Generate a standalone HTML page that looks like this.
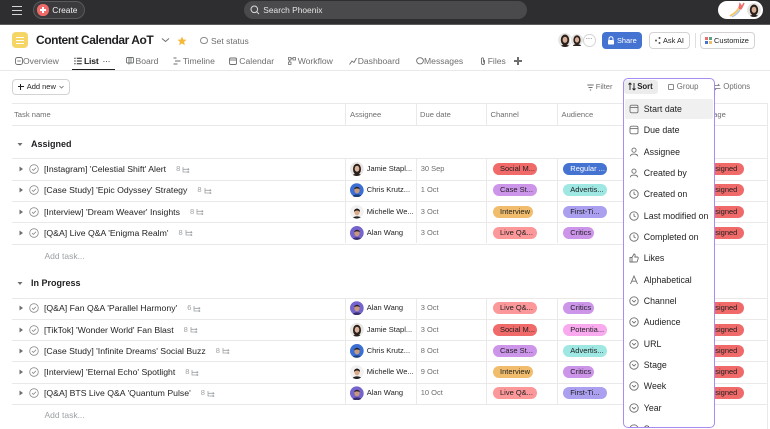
<!DOCTYPE html>
<html><head><meta charset="utf-8"><style>
*{box-sizing:border-box}
body{margin:0;width:770px;height:429px;overflow:hidden;position:relative;background:#fff;font-family:"Liberation Sans",Arial,sans-serif;color:#1e1f21}
.a{position:absolute;white-space:nowrap}
.tx{height:12px;line-height:12px;font-size:8.7px;display:flex;align-items:center}
.sm{height:12px;line-height:12px;font-size:7.5px}
.gr{color:#6d6e6f}
.hl{position:absolute;left:12px;width:755px;height:1px;background:#ebe9e8}
.vl{position:absolute;width:1px;background:#ebe9e8}
.p{position:absolute;height:12px;border-radius:6px;font-size:7.5px;line-height:12px;padding-left:7px;color:#1e1f21;overflow:hidden;white-space:nowrap}
.sc{color:#9ca0a3;font-size:7.5px;margin-left:10px;display:inline-flex;align-items:center}
.sc svg{margin-left:2px}
.av{position:absolute;clip-path:circle(50%)}
.tab{position:absolute;top:55px;height:12px;line-height:12px;font-size:8.6px;color:#6d6e6f;white-space:nowrap}
.ti{position:absolute;top:57px}
.mi{position:absolute;left:20.3px;height:14px;line-height:14px;font-size:8.8px;color:#1e1f21;white-space:nowrap}
.mic{position:absolute;left:5.5px}
</style></head><body>

<!-- top bar -->
<div class="a" style="left:0;top:0;width:770px;height:24px;background:#2e2e30"></div>
<div class="a" style="left:0;top:24px;width:770px;height:1px;background:#5c5c5e"></div>
<div class="a" style="left:12px;top:5.5px;width:10px;height:1.4px;background:#d4d4d4"></div>
<div class="a" style="left:12px;top:9.5px;width:10px;height:1.4px;background:#d4d4d4"></div>
<div class="a" style="left:12px;top:13.5px;width:10px;height:1.4px;background:#d4d4d4"></div>
<div class="a" style="left:33px;top:1px;width:52px;height:18px;background:#3b3b3d;border:1px solid #5a5a5c;border-radius:9px"></div>
<div class="a" style="left:37.3px;top:4.3px;width:11.4px;height:11.4px;border-radius:50%;background:#f06a6a"></div>
<div class="a" style="left:40px;top:9.4px;width:6px;height:1.3px;background:#fff"></div>
<div class="a" style="left:42.35px;top:7px;width:1.3px;height:6px;background:#fff"></div>
<div class="a" style="left:52.3px;top:4px;height:12px;line-height:12px;font-size:8.4px;color:#f2f2f2">Create</div>
<div class="a" style="left:244px;top:1px;width:283px;height:18px;background:#4a4a4c;border-radius:9px"></div>
<svg class="a" style="left:250px;top:5px" width="10" height="10" viewBox="0 0 10 10"><circle cx="4.3" cy="4.3" r="3.3" fill="none" stroke="#d8d8d8" stroke-width="1"/><path d="M6.7 6.7L9 9" stroke="#d8d8d8" stroke-width="1"/></svg>
<div class="a" style="left:263.3px;top:4px;height:12px;line-height:12px;font-size:8.4px;color:#e4e4e4">Search Phoenix</div>
<div class="a" style="left:718px;top:1px;width:45px;height:18px;background:#fff;border-radius:9px"></div>
<svg class="a" style="left:728px;top:2px" width="18" height="16" viewBox="0 0 18 16"><path d="M2 14 C6 12 9 10 11 6" stroke="#f5c86a" stroke-width="2" fill="none"/><path d="M4 15 C8 13 10 11 12 8" stroke="#9fc3f0" stroke-width="1.2" fill="none"/><path d="M11 6 L12 2 L14 5 L16 1" stroke="#f06a6a" stroke-width="1.5" fill="none"/><circle cx="12.5" cy="6" r="1.6" fill="#f06a6a"/></svg>
<svg class="av" style="left:747px;top:3px" width="14" height="14" viewBox="0 0 14 14"><circle cx="7" cy="7" r="7" fill="#e6e3e0"/><ellipse cx="7" cy="7" rx="4.2" ry="5.5" fill="#2a201c"/><ellipse cx="7" cy="6.8" rx="2.4" ry="3.1" fill="#d7ad92"/><path d="M2 14c1-3 9-3 10 0z" fill="#2a201c"/></svg>

<!-- title row -->
<div class="a" style="left:12px;top:32px;width:16px;height:16px;border-radius:4px;background:#f5d565"></div>
<div class="a" style="left:16px;top:36.5px;width:8px;height:1.2px;background:#fff"></div>
<div class="a" style="left:16px;top:39.5px;width:8px;height:1.2px;background:#fff"></div>
<div class="a" style="left:16px;top:42.5px;width:8px;height:1.2px;background:#fff"></div>
<div class="a" style="left:36px;top:33px;height:15px;line-height:15px;font-size:12px;font-weight:bold;letter-spacing:-0.45px;color:#1e1f21">Content Calendar AoT</div>
<svg class="a" style="left:161px;top:37px" width="9" height="6" viewBox="0 0 9 6"><path d="M1 1.5L4.5 4.5L8 1.5" stroke="#6d6e6f" stroke-width="1" fill="none"/></svg>
<svg class="a" style="left:177px;top:35.5px" width="10" height="10" viewBox="0 0 10 10"><path d="M5 0.5L6.3 3.5L9.5 3.8L7.1 5.9L7.8 9.2L5 7.5L2.2 9.2L2.9 5.9L0.5 3.8L3.7 3.5Z" fill="#f5b93a"/></svg>
<div class="a" style="left:200px;top:36.5px;width:7.5px;height:7.5px;border-radius:50%;border:1px solid #8a8b8c"></div>
<div class="a gr" style="left:211px;top:34.5px;height:12px;line-height:12px;font-size:8.5px">Set status</div>

<svg class="av" style="left:558px;top:33px" width="14" height="14" viewBox="0 0 14 14"><circle cx="7" cy="7" r="7" fill="#e8e5e2"/><ellipse cx="7" cy="7" rx="4.2" ry="5.5" fill="#2a201c"/><ellipse cx="7" cy="6.8" rx="2.4" ry="3.1" fill="#d9b198"/><path d="M2 14c1-3 9-3 10 0z" fill="#2a201c"/></svg>
<svg class="av" style="left:570px;top:33px;border:1px solid #fff" width="14" height="14" viewBox="0 0 14 14"><circle cx="7" cy="7" r="7" fill="#e8e5e2"/><ellipse cx="7" cy="7" rx="4.2" ry="5.5" fill="#2a201c"/><ellipse cx="7" cy="6.8" rx="2.4" ry="3.1" fill="#d9b198"/><path d="M2 14c1-3 9-3 10 0z" fill="#2a201c"/></svg>
<div class="a" style="left:583px;top:34px;width:12.5px;height:12.5px;border-radius:50%;background:#fff;border:1px solid #d5d5d5"></div>
<div class="a" style="left:585.5px;top:36px;height:8px;line-height:6px;font-size:8px;color:#6d6e6f;letter-spacing:-0.5px">···</div>
<div class="a" style="left:602px;top:32px;width:40px;height:17px;border-radius:4px;background:#4573d2"></div>
<svg class="a" style="left:607px;top:36px" width="8" height="9" viewBox="0 0 8 9"><path d="M2 4V2.8a2 2 0 0 1 4 0V4" stroke="#fff" stroke-width="1" fill="none"/><rect x="1" y="4" width="6" height="4.5" rx="0.8" fill="#fff"/></svg>
<div class="a" style="left:617px;top:34.5px;height:12px;line-height:12px;font-size:7.4px;color:#fff">Share</div>
<div class="a" style="left:648.5px;top:32px;width:41.5px;height:17px;border-radius:4px;border:1px solid #d5d3d2;background:#fff"></div>
<svg class="a" style="left:654px;top:36px" width="8" height="9" viewBox="0 0 8 9"><circle cx="2" cy="4.5" r="1" fill="#555"/><circle cx="5.5" cy="2" r="1" fill="#555"/><circle cx="5.5" cy="7" r="1" fill="#555"/></svg>
<div class="a" style="left:663px;top:34.5px;height:12px;line-height:12px;font-size:7.4px;color:#1e1f21">Ask AI</div>
<div class="a" style="left:695px;top:33px;width:1px;height:15px;background:#e0dedd"></div>
<div class="a" style="left:700px;top:32px;width:55px;height:17px;border-radius:4px;border:1px solid #d5d3d2;background:#fff"></div>
<div class="a" style="left:705px;top:37px;width:3px;height:3px;background:#f06a6a"></div>
<div class="a" style="left:709px;top:37px;width:3px;height:3px;background:#5da283"></div>
<div class="a" style="left:705px;top:41px;width:3px;height:3px;background:#4573d2"></div>
<div class="a" style="left:709px;top:41px;width:3px;height:3px;background:#f1bd6c"></div>
<div class="a" style="left:714px;top:34.5px;height:12px;line-height:12px;font-size:7.4px;color:#1e1f21">Customize</div>

<!-- tabs -->
<svg class="ti" style="left:14.5px" width="8" height="8" viewBox="0 0 8 8"><rect x="0.5" y="0.5" width="7" height="7" rx="2" fill="none" stroke="#6d6e6f" stroke-width="0.9"/><path d="M2.3 4h3.4" stroke="#6d6e6f" stroke-width="0.9"/></svg>
<div class="tab" style="left:23px">Overview</div>
<svg class="ti" style="left:74px" width="8" height="8" viewBox="0 0 8 8"><path d="M0.3 1.3h1.3M2.8 1.3h5M0.3 4h1.3M2.8 4h5M0.3 6.7h1.3M2.8 6.7h5" stroke="#1e1f21" stroke-width="1"/></svg>
<div class="tab" style="left:84px;color:#1e1f21;font-weight:bold;letter-spacing:-0.2px">List</div>
<div class="tab" style="left:102.5px;color:#1e1f21;letter-spacing:-0.3px">···</div>
<div class="a" style="left:72px;top:68.5px;width:42.5px;height:1.5px;background:#1e1f21"></div>
<svg class="ti" style="left:126px" width="8" height="8" viewBox="0 0 8 8"><rect x="0.5" y="0.5" width="7" height="5.5" rx="1" fill="none" stroke="#6d6e6f" stroke-width="0.9"/><path d="M3 0.5v7M5 0.5v5.5" stroke="#6d6e6f" stroke-width="0.9"/></svg>
<div class="tab" style="left:135.5px">Board</div>
<svg class="ti" style="left:172.7px" width="8" height="8" viewBox="0 0 8 8"><path d="M0.5 1h3M2 4h5.5M0.5 7h4" stroke="#6d6e6f" stroke-width="1"/></svg>
<div class="tab" style="left:182.7px">Timeline</div>
<svg class="ti" style="left:229.3px" width="8" height="8" viewBox="0 0 8 8"><rect x="0.5" y="1" width="7" height="6.5" rx="1.2" fill="none" stroke="#6d6e6f" stroke-width="0.9"/><path d="M0.5 3h7" stroke="#6d6e6f" stroke-width="0.9"/></svg>
<div class="tab" style="left:239.3px">Calendar</div>
<svg class="ti" style="left:287.7px" width="8" height="8" viewBox="0 0 8 8"><rect x="0.5" y="0.5" width="2.5" height="2.5" fill="none" stroke="#6d6e6f" stroke-width="0.8"/><rect x="5" y="0.5" width="2.5" height="2.5" fill="none" stroke="#6d6e6f" stroke-width="0.8"/><rect x="0.5" y="5" width="2.5" height="2.5" fill="none" stroke="#6d6e6f" stroke-width="0.8"/><path d="M3 1.7h2M1.7 3v2" stroke="#6d6e6f" stroke-width="0.8"/></svg>
<div class="tab" style="left:297.7px">Workflow</div>
<svg class="ti" style="left:348.7px" width="8" height="8" viewBox="0 0 8 8"><path d="M0.5 7.5L3 4L5 5.5L7.5 1" stroke="#6d6e6f" stroke-width="0.9" fill="none"/></svg>
<div class="tab" style="left:357.7px">Dashboard</div>
<svg class="ti" style="left:415.5px" width="8" height="8" viewBox="0 0 8 8"><ellipse cx="4" cy="3.8" rx="3.4" ry="3.1" fill="none" stroke="#6d6e6f" stroke-width="0.9"/></svg>
<div class="tab" style="left:424px">Messages</div>
<svg class="ti" style="left:479.5px" width="6" height="8" viewBox="0 0 6 8"><path d="M4.5 3v3a1.5 1.5 0 0 1-3 0V1.8a1 1 0 0 1 2 0V5.5" stroke="#6d6e6f" stroke-width="0.9" fill="none"/></svg>
<div class="tab" style="left:487.7px">Files</div>
<div class="a" style="left:514px;top:60.3px;width:8px;height:1.3px;background:#6d6e6f"></div>
<div class="a" style="left:517.35px;top:57px;width:1.3px;height:8px;background:#6d6e6f"></div>
<div class="a" style="left:0;top:70px;width:770px;height:1px;background:#ebe9e8"></div>

<!-- toolbar -->
<div class="a" style="left:12px;top:78.7px;width:58px;height:16.5px;border:1px solid #d5d3d2;border-radius:4px"></div>
<div class="a" style="left:18px;top:86.4px;width:5.5px;height:1.1px;background:#1e1f21"></div>
<div class="a" style="left:20.2px;top:84.2px;width:1.1px;height:5.5px;background:#1e1f21"></div>
<div class="a" style="left:26.7px;top:81px;height:12px;line-height:12px;font-size:7.5px">Add new</div>
<svg class="a" style="left:59px;top:85px" width="5" height="4" viewBox="0 0 5 4"><path d="M0.5 1L2.5 3L4.5 1" stroke="#6d6e6f" stroke-width="0.8" fill="none"/></svg>
<svg class="a" style="left:586.5px;top:83.5px" width="7" height="7" viewBox="0 0 7 7"><path d="M0.3 1h6.4M1.5 3.5h4M2.8 6h1.4" stroke="#6d6e6f" stroke-width="0.9"/></svg>
<div class="a gr" style="left:595.7px;top:81px;height:12px;line-height:12px;font-size:7.6px">Filter</div>
<svg class="a" style="left:712.5px;top:83px" width="8" height="8" viewBox="0 0 8 8"><path d="M0.5 2.5h6M5 1l1.5 1.5M7.5 5.5h-6M3 7L1.5 5.5" stroke="#6d6e6f" stroke-width="0.8" fill="none"/></svg>
<div class="a gr" style="left:723.3px;top:81px;height:12px;line-height:12px;font-size:7.8px">Options</div>

<!-- table header -->
<div class="hl" style="top:103px"></div>
<div class="hl" style="top:125px"></div>
<div class="a gr" style="left:14px;top:109px;height:12px;line-height:12px;font-size:7.6px">Task name</div>
<div class="a gr" style="left:350px;top:109px;height:12px;line-height:12px;font-size:7.6px">Assignee</div>
<div class="a gr" style="left:420px;top:109px;height:12px;line-height:12px;font-size:7.6px">Due date</div>
<div class="a gr" style="left:490.5px;top:109px;height:12px;line-height:12px;font-size:7.6px">Channel</div>
<div class="a gr" style="left:561.5px;top:109px;height:12px;line-height:12px;font-size:7.6px">Audience</div>
<div class="a gr" style="left:706px;top:109px;height:12px;line-height:12px;font-size:7.6px">Stage</div>
<div class="vl" style="left:345px;top:103px;height:22px"></div>
<div class="vl" style="left:415.5px;top:103px;height:22px"></div>
<div class="vl" style="left:485.5px;top:103px;height:22px"></div>
<div class="vl" style="left:556.5px;top:103px;height:22px"></div>
<div class="vl" style="left:697px;top:103px;height:22px"></div>
<div class="vl" style="left:767px;top:103px;height:326px"></div>

<!-- section Assigned -->
<svg class="a" style="left:16.5px;top:142px" width="6" height="5" viewBox="0 0 6 5"><path d="M0.5 1h5L3 4z" fill="#6d6e6f"/></svg>
<div class="a" style="left:31px;top:138.3px;height:12px;line-height:12px;font-size:9px;font-weight:bold">Assigned</div>
<div class="hl" style="top:158.3px"></div>
<div class="hl" style="top:179.6px"></div>
<div class="hl" style="top:200.9px"></div>
<div class="hl" style="top:222.2px"></div>
<div class="hl" style="top:243.5px"></div>
<div class="vl" style="left:345px;top:158.3px;height:85.2px"></div>
<div class="vl" style="left:415.5px;top:158.3px;height:85.2px"></div>
<div class="vl" style="left:485.5px;top:158.3px;height:85.2px"></div>
<div class="vl" style="left:556.5px;top:158.3px;height:85.2px"></div>

<!-- section In Progress -->
<svg class="a" style="left:16.5px;top:281px" width="6" height="5" viewBox="0 0 6 5"><path d="M0.5 1h5L3 4z" fill="#6d6e6f"/></svg>
<div class="a" style="left:31px;top:277.3px;height:12px;line-height:12px;font-size:9px;font-weight:bold">In Progress</div>
<div class="hl" style="top:297.5px"></div>
<div class="hl" style="top:318.8px"></div>
<div class="hl" style="top:340.1px"></div>
<div class="hl" style="top:361.4px"></div>
<div class="hl" style="top:382.7px"></div>
<div class="hl" style="top:404px"></div>
<div class="vl" style="left:345px;top:297.5px;height:106.5px"></div>
<div class="vl" style="left:415.5px;top:297.5px;height:106.5px"></div>
<div class="vl" style="left:485.5px;top:297.5px;height:106.5px"></div>
<div class="vl" style="left:556.5px;top:297.5px;height:106.5px"></div>

<div class="a" style="left:44.5px;top:250px;height:12px;line-height:12px;font-size:8.5px;color:#9ca0a3">Add task...</div>
<div class="a" style="left:44.5px;top:409.3px;height:12px;line-height:12px;font-size:8.5px;color:#9ca0a3">Add task...</div>

<svg width="0" height="0" style="position:absolute"><defs>
<g id="tri"><path d="M0.5 0.5L4 3L0.5 5.5z" fill="#6d6e6f"/></g>
<g id="chk"><circle cx="5" cy="5" r="4.3" fill="none" stroke="#8a8b8c" stroke-width="0.8"/><path d="M3 5.1L4.4 6.4L7 3.8" fill="none" stroke="#8a8b8c" stroke-width="0.8"/></g>
<g id="sub"><path d="M1 1v5h6M1 3.3h6" stroke="#9ca0a3" stroke-width="0.8" fill="none"/><path d="M5.8 2.3l1.2 1-1.2 1M5.8 5l1.2 1-1.2 1" stroke="#9ca0a3" stroke-width="0.7" fill="none"/></g>
</defs></svg>

<!-- Assigned rows -->
<svg class="a" style="left:18.7px;top:166px" width="5" height="6"><use href="#tri"/></svg>
<svg class="a" style="left:28.7px;top:164px" width="10" height="10"><use href="#chk"/></svg>
<div class="a tx" style="left:44px;top:163px">[Instagram] 'Celestial Shift' Alert<span class="sc">8<svg width="8" height="7"><use href="#sub"/></svg></span></div>
<svg class="av" style="left:349.7px;top:162px" width="14" height="14" viewBox="0 0 14 14"><circle cx="7" cy="7" r="7" fill="#e8e5e2"/><ellipse cx="7" cy="7.2" rx="4" ry="5.5" fill="#2a201c"/><ellipse cx="7" cy="6.8" rx="2.3" ry="3" fill="#dcb49b"/><path d="M2 14c1-3 9-3 10 0z" fill="#2a201c"/></svg>
<div class="a sm" style="left:366.7px;top:163px">Jamie Stapl...</div>
<div class="a sm gr" style="left:420.7px;top:163px">30 Sep</div>
<div class="p" style="left:493px;top:163px;width:44px;background:#f06a6a">Social M...</div>
<div class="p" style="left:563.3px;top:163px;width:44px;background:#4573d2;color:#fff">Regular ...</div>
<div class="p" style="left:699.5px;top:163px;width:44.5px;background:#f06a6a">Assigned</div>

<svg class="a" style="left:18.7px;top:187.3px" width="5" height="6"><use href="#tri"/></svg>
<svg class="a" style="left:28.7px;top:185.3px" width="10" height="10"><use href="#chk"/></svg>
<div class="a tx" style="left:44px;top:184.3px">[Case Study] 'Epic Odyssey' Strategy<span class="sc">8<svg width="8" height="7"><use href="#sub"/></svg></span></div>
<svg class="av" style="left:349.7px;top:183.3px" width="14" height="14" viewBox="0 0 14 14"><circle cx="7" cy="7" r="7" fill="#3b6fd4"/><ellipse cx="7" cy="7.2" rx="2.6" ry="3.2" fill="#c99a7a"/><path d="M4.2 6.5c0-3.5 5.6-3.5 5.6 0c-1.2-1.3-4.4-1.3-5.6 0z" fill="#2a201c"/><path d="M2 14c1-3.5 9-3.5 10 0z" fill="#1f3f7a"/></svg>
<div class="a sm" style="left:366.7px;top:184.3px">Chris Krutz...</div>
<div class="a sm gr" style="left:420.7px;top:184.3px">1 Oct</div>
<div class="p" style="left:493px;top:184.3px;width:44px;background:#cd95ea">Case St...</div>
<div class="p" style="left:563.3px;top:184.3px;width:44px;background:#9ee7e3">Advertis...</div>
<div class="p" style="left:699.5px;top:184.3px;width:44.5px;background:#f06a6a">Assigned</div>

<svg class="a" style="left:18.7px;top:208.6px" width="5" height="6"><use href="#tri"/></svg>
<svg class="a" style="left:28.7px;top:206.6px" width="10" height="10"><use href="#chk"/></svg>
<div class="a tx" style="left:44px;top:205.6px">[Interview] 'Dream Weaver' Insights<span class="sc">8<svg width="8" height="7"><use href="#sub"/></svg></span></div>
<svg class="av" style="left:349.7px;top:204.6px" width="14" height="14" viewBox="0 0 14 14"><circle cx="7" cy="7" r="7" fill="#f2f1f0"/><ellipse cx="7" cy="7.2" rx="2.6" ry="3.2" fill="#d9ab8c"/><path d="M4 7c-0.5-4.5 6.5-4.5 6 0c-1-2-5-2-6 0z" fill="#1d1815"/><path d="M2 14c1-3.5 9-3.5 10 0z" fill="#222"/></svg>
<div class="a sm" style="left:366.7px;top:205.6px">Michelle We...</div>
<div class="a sm gr" style="left:420.7px;top:205.6px">3 Oct</div>
<div class="p" style="left:493px;top:205.6px;width:40px;background:#f1bd6c">Interview</div>
<div class="p" style="left:563.3px;top:205.6px;width:44px;background:#aba0f0">First-Ti...</div>
<div class="p" style="left:699.5px;top:205.6px;width:44.5px;background:#f06a6a">Assigned</div>

<svg class="a" style="left:18.7px;top:229.9px" width="5" height="6"><use href="#tri"/></svg>
<svg class="a" style="left:28.7px;top:227.9px" width="10" height="10"><use href="#chk"/></svg>
<div class="a tx" style="left:44px;top:226.9px">[Q&amp;A] Live Q&amp;A 'Enigma Realm'<span class="sc">8<svg width="8" height="7"><use href="#sub"/></svg></span></div>
<svg class="av" style="left:349.7px;top:225.9px" width="14" height="14" viewBox="0 0 14 14"><circle cx="7" cy="7" r="7" fill="#7464cc"/><ellipse cx="7" cy="7.2" rx="2.6" ry="3.2" fill="#c8987a"/><path d="M4.2 6.3c0-3.3 5.6-3.3 5.6 0c-1.2-1.2-4.4-1.2-5.6 0z" fill="#2a201c"/><path d="M2 14c1-3.5 9-3.5 10 0z" fill="#3a2f6e"/></svg>
<div class="a sm" style="left:366.7px;top:226.9px">Alan Wang</div>
<div class="a sm gr" style="left:420.7px;top:226.9px">3 Oct</div>
<div class="p" style="left:493px;top:226.9px;width:44px;background:#fc979a">Live Q&amp;...</div>
<div class="p" style="left:563.3px;top:226.9px;width:31px;background:#cd95ea">Critics</div>
<div class="p" style="left:699.5px;top:226.9px;width:44.5px;background:#f06a6a">Assigned</div>

<!-- In Progress rows -->
<svg class="a" style="left:18.7px;top:305.2px" width="5" height="6"><use href="#tri"/></svg>
<svg class="a" style="left:28.7px;top:303.2px" width="10" height="10"><use href="#chk"/></svg>
<div class="a tx" style="left:44px;top:302.2px">[Q&amp;A] Fan Q&amp;A 'Parallel Harmony'<span class="sc">6<svg width="8" height="7"><use href="#sub"/></svg></span></div>
<svg class="av" style="left:349.7px;top:301.2px" width="14" height="14" viewBox="0 0 14 14"><circle cx="7" cy="7" r="7" fill="#7464cc"/><ellipse cx="7" cy="7.2" rx="2.6" ry="3.2" fill="#c8987a"/><path d="M4.2 6.3c0-3.3 5.6-3.3 5.6 0c-1.2-1.2-4.4-1.2-5.6 0z" fill="#2a201c"/><path d="M2 14c1-3.5 9-3.5 10 0z" fill="#3a2f6e"/></svg>
<div class="a sm" style="left:366.7px;top:302.2px">Alan Wang</div>
<div class="a sm gr" style="left:420.7px;top:302.2px">3 Oct</div>
<div class="p" style="left:493px;top:302.2px;width:44px;background:#fc979a">Live Q&amp;...</div>
<div class="p" style="left:563.3px;top:302.2px;width:31px;background:#cd95ea">Critics</div>
<div class="p" style="left:699.5px;top:302.2px;width:44.5px;background:#f06a6a">Assigned</div>

<svg class="a" style="left:18.7px;top:326.5px" width="5" height="6"><use href="#tri"/></svg>
<svg class="a" style="left:28.7px;top:324.5px" width="10" height="10"><use href="#chk"/></svg>
<div class="a tx" style="left:44px;top:323.5px">[TikTok] 'Wonder World' Fan Blast<span class="sc">8<svg width="8" height="7"><use href="#sub"/></svg></span></div>
<svg class="av" style="left:349.7px;top:322.5px" width="14" height="14" viewBox="0 0 14 14"><circle cx="7" cy="7" r="7" fill="#e8e5e2"/><ellipse cx="7" cy="7.2" rx="4" ry="5.5" fill="#2a201c"/><ellipse cx="7" cy="6.8" rx="2.3" ry="3" fill="#dcb49b"/><path d="M2 14c1-3 9-3 10 0z" fill="#2a201c"/></svg>
<div class="a sm" style="left:366.7px;top:323.5px">Jamie Stapl...</div>
<div class="a sm gr" style="left:420.7px;top:323.5px">3 Oct</div>
<div class="p" style="left:493px;top:323.5px;width:44px;background:#f06a6a">Social M...</div>
<div class="p" style="left:563.3px;top:323.5px;width:44px;background:#f9aaef">Potentia...</div>
<div class="p" style="left:699.5px;top:323.5px;width:44.5px;background:#f06a6a">Assigned</div>

<svg class="a" style="left:18.7px;top:347.8px" width="5" height="6"><use href="#tri"/></svg>
<svg class="a" style="left:28.7px;top:345.8px" width="10" height="10"><use href="#chk"/></svg>
<div class="a tx" style="left:44px;top:344.8px">[Case Study] 'Infinite Dreams' Social Buzz<span class="sc">8<svg width="8" height="7"><use href="#sub"/></svg></span></div>
<svg class="av" style="left:349.7px;top:343.8px" width="14" height="14" viewBox="0 0 14 14"><circle cx="7" cy="7" r="7" fill="#3b6fd4"/><ellipse cx="7" cy="7.2" rx="2.6" ry="3.2" fill="#c99a7a"/><path d="M4.2 6.5c0-3.5 5.6-3.5 5.6 0c-1.2-1.3-4.4-1.3-5.6 0z" fill="#2a201c"/><path d="M2 14c1-3.5 9-3.5 10 0z" fill="#1f3f7a"/></svg>
<div class="a sm" style="left:366.7px;top:344.8px">Chris Krutz...</div>
<div class="a sm gr" style="left:420.7px;top:344.8px">8 Oct</div>
<div class="p" style="left:493px;top:344.8px;width:44px;background:#cd95ea">Case St...</div>
<div class="p" style="left:563.3px;top:344.8px;width:44px;background:#9ee7e3">Advertis...</div>
<div class="p" style="left:699.5px;top:344.8px;width:44.5px;background:#f06a6a">Assigned</div>

<svg class="a" style="left:18.7px;top:369.1px" width="5" height="6"><use href="#tri"/></svg>
<svg class="a" style="left:28.7px;top:367.1px" width="10" height="10"><use href="#chk"/></svg>
<div class="a tx" style="left:44px;top:366.1px">[Interview] 'Eternal Echo' Spotlight<span class="sc">8<svg width="8" height="7"><use href="#sub"/></svg></span></div>
<svg class="av" style="left:349.7px;top:365.1px" width="14" height="14" viewBox="0 0 14 14"><circle cx="7" cy="7" r="7" fill="#f2f1f0"/><ellipse cx="7" cy="7.2" rx="2.6" ry="3.2" fill="#d9ab8c"/><path d="M4 7c-0.5-4.5 6.5-4.5 6 0c-1-2-5-2-6 0z" fill="#1d1815"/><path d="M2 14c1-3.5 9-3.5 10 0z" fill="#222"/></svg>
<div class="a sm" style="left:366.7px;top:366.1px">Michelle We...</div>
<div class="a sm gr" style="left:420.7px;top:366.1px">9 Oct</div>
<div class="p" style="left:493px;top:366.1px;width:40px;background:#f1bd6c">Interview</div>
<div class="p" style="left:563.3px;top:366.1px;width:31px;background:#cd95ea">Critics</div>
<div class="p" style="left:699.5px;top:366.1px;width:44.5px;background:#f06a6a">Assigned</div>

<svg class="a" style="left:18.7px;top:390.4px" width="5" height="6"><use href="#tri"/></svg>
<svg class="a" style="left:28.7px;top:388.4px" width="10" height="10"><use href="#chk"/></svg>
<div class="a tx" style="left:44px;top:387.4px">[Q&amp;A] BTS Live Q&amp;A 'Quantum Pulse'<span class="sc">8<svg width="8" height="7"><use href="#sub"/></svg></span></div>
<svg class="av" style="left:349.7px;top:386.4px" width="14" height="14" viewBox="0 0 14 14"><circle cx="7" cy="7" r="7" fill="#7464cc"/><ellipse cx="7" cy="7.2" rx="2.6" ry="3.2" fill="#c8987a"/><path d="M4.2 6.3c0-3.3 5.6-3.3 5.6 0c-1.2-1.2-4.4-1.2-5.6 0z" fill="#2a201c"/><path d="M2 14c1-3.5 9-3.5 10 0z" fill="#3a2f6e"/></svg>
<div class="a sm" style="left:366.7px;top:387.4px">Alan Wang</div>
<div class="a sm gr" style="left:420.7px;top:387.4px">10 Oct</div>
<div class="p" style="left:493px;top:387.4px;width:44px;background:#fc979a">Live Q&amp;...</div>
<div class="p" style="left:563.3px;top:387.4px;width:44px;background:#aba0f0">First-Ti...</div>
<div class="p" style="left:699.5px;top:387.4px;width:44.5px;background:#f06a6a">Assigned</div>

<!-- Sort dropdown with purple outline -->
<div class="a" style="left:622.5px;top:77.5px;width:92.5px;height:350.5px;border:1.5px solid #a98cf3;border-radius:5px;background:#fff;overflow:hidden;z-index:5">
  <div class="a" style="left:0.5px;top:1px;width:33.5px;height:14px;border-radius:3px;background:#ececec"></div>
  <svg class="a" style="left:4px;top:3.5px" width="8" height="9" viewBox="0 0 8 9"><path d="M2 8V1M0.5 2.5L2 1L3.5 2.5M6 1v7M4.5 6.5L6 8L7.5 6.5" stroke="#1e1f21" stroke-width="0.9" fill="none"/></svg>
  <div class="a" style="left:13.7px;top:2px;height:12px;line-height:12px;font-size:7.8px;font-weight:bold;color:#1e1f21">Sort</div>
  <div class="a" style="left:44px;top:5px;width:6px;height:6px;border:0.9px solid #8a8b8c;border-radius:1px"></div>
  <div class="a gr" style="left:53.3px;top:2px;height:12px;line-height:12px;font-size:7.8px">Group</div>
  <div class="a" style="left:1px;top:20.3px;width:88px;height:20px;background:#f1f0f0;border-radius:2px"></div>

  <svg width="0" height="0" style="position:absolute"><defs>
    <g id="ical" fill="none" stroke="#6d6e6f" stroke-width="0.9"><rect x="1" y="1.2" width="8" height="7.6" rx="1.5"/><path d="M1 3.6h8"/></g>
    <g id="iper" fill="none" stroke="#6d6e6f" stroke-width="0.9"><circle cx="5" cy="3.2" r="2.1"/><path d="M1.2 9.3c0.6-3 7-3 7.6 0"/></g>
    <g id="iclk" fill="none" stroke="#6d6e6f" stroke-width="0.9"><circle cx="5" cy="5" r="4.2"/><path d="M5 2.6V5l1.7 1"/></g>
    <g id="ilk" fill="none" stroke="#6d6e6f" stroke-width="0.9"><path d="M1 4.5h2v4.5H1zM3 4.5L5 1c1 0 1.3.7 1.1 1.8L5.8 4h2.5c.6 0 1 .5.9 1.1l-.8 3.1c-.1.5-.5.8-1 .8H3"/></g>
    <g id="ia" fill="none" stroke="#6d6e6f" stroke-width="0.9"><path d="M1.5 9L5 1l3.5 8M2.8 6.2h4.4"/></g>
    <g id="ich" fill="none" stroke="#6d6e6f" stroke-width="0.9"><circle cx="5" cy="5" r="4.2"/><path d="M3.1 4.2L5 6l1.9-1.8"/></g>
  </defs></svg>

  <svg class="mic" style="top:25.3px" width="10" height="10"><use href="#ical"/></svg><div class="mi" style="top:23.3px">Start date</div>
  <svg class="mic" style="top:46.6px" width="10" height="10"><use href="#ical"/></svg><div class="mi" style="top:44.6px">Due date</div>
  <svg class="mic" style="top:68px" width="10" height="10"><use href="#iper"/></svg><div class="mi" style="top:66px">Assignee</div>
  <svg class="mic" style="top:89.3px" width="10" height="10"><use href="#iper"/></svg><div class="mi" style="top:87.3px">Created by</div>
  <svg class="mic" style="top:110.6px" width="10" height="10"><use href="#iclk"/></svg><div class="mi" style="top:108.6px">Created on</div>
  <svg class="mic" style="top:132px" width="10" height="10"><use href="#iclk"/></svg><div class="mi" style="top:130px">Last modified on</div>
  <svg class="mic" style="top:153.3px" width="10" height="10"><use href="#iclk"/></svg><div class="mi" style="top:151.3px">Completed on</div>
  <svg class="mic" style="top:174.6px" width="10" height="10"><use href="#ilk"/></svg><div class="mi" style="top:172.6px">Likes</div>
  <svg class="mic" style="top:196px" width="10" height="10"><use href="#ia"/></svg><div class="mi" style="top:194px">Alphabetical</div>
  <svg class="mic" style="top:217.3px" width="10" height="10"><use href="#ich"/></svg><div class="mi" style="top:215.3px">Channel</div>
  <svg class="mic" style="top:238.6px" width="10" height="10"><use href="#ich"/></svg><div class="mi" style="top:236.6px">Audience</div>
  <svg class="mic" style="top:260px" width="10" height="10"><use href="#ich"/></svg><div class="mi" style="top:258px">URL</div>
  <svg class="mic" style="top:281.3px" width="10" height="10"><use href="#ich"/></svg><div class="mi" style="top:279.3px">Stage</div>
  <svg class="mic" style="top:302.6px" width="10" height="10"><use href="#ich"/></svg><div class="mi" style="top:300.6px">Week</div>
  <svg class="mic" style="top:324px" width="10" height="10"><use href="#ich"/></svg><div class="mi" style="top:322px">Year</div>
  <svg class="mic" style="top:345.3px" width="10" height="10"><use href="#ich"/></svg><div class="mi" style="top:343.3px">Success</div>
</div>

</body></html>
